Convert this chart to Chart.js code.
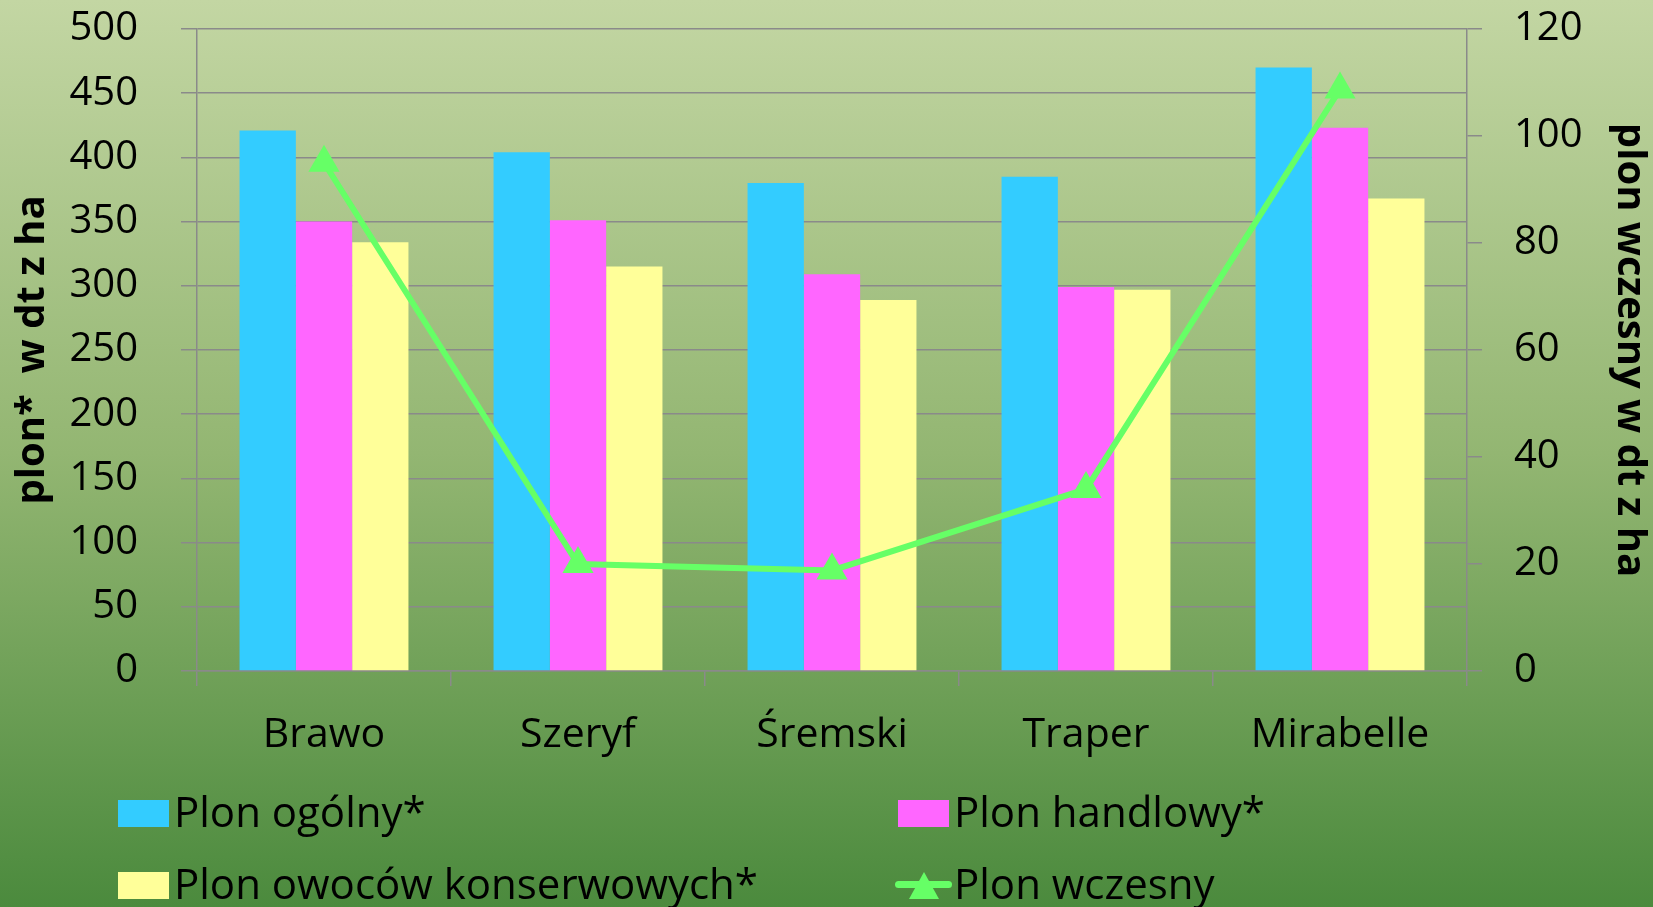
<!DOCTYPE html>
<html>
<head>
<meta charset="utf-8">
<script src="https://cdn.jsdelivr.net/npm/chart.js@4"></script>
<style>
  html, body { margin: 0; padding: 0; }
  body {
    width: 1653px; height: 907px; overflow: hidden; position: relative;
    background: linear-gradient(to bottom, #c3d6a3 0%, #93b672 50%, #4b8a3d 100%);
    font-family: 'Open Sans', sans-serif;
  }
  #wrap { position: absolute; left: 0; top: 0; width: 1653px; height: 907px; }
  .lg { position: absolute; font-size: 42px; line-height: 48px; color: #000; white-space: nowrap; }
  .box { position: absolute; width: 51px; height: 27px; }
  .lline { position: absolute; width: 57px; height: 7px; border-radius: 4px; }
  .ltri { position: absolute; width: 0; height: 0; border-left: 15px solid transparent; border-right: 15px solid transparent; }
</style>
</head>
<body>
<div id="wrap"><canvas id="barChart" width="1653" height="907"></canvas></div>
<div id="legend"></div>
<script>
// dane
var categories = ['Brawo', 'Szeryf', 'Śremski', 'Traper', 'Mirabelle'];
var plonOgolny = [421, 404, 380, 385, 470];
var plonHandlowy = [350, 351, 309, 299, 423];
var plonKonserwowy = [334, 315, 289, 297, 368];
var plonWczesny = [95, 20, 18.8, 34, 108.7];
var leftTicks = [0, 500, 50];
var rightTicks = [0, 120, 20];

var seriesNames = ['Plon ogólny*', 'Plon handlowy*', 'Plon owoców konserwowych*', 'Plon wczesny'];
var seriesColors = ['#33ccff', '#ff66ff', '#ffff99', '#66ff66'];

var gridColor = '#8a8a8a';
var tickFont = { family: 'Open Sans', size: 40 };
var titleFont = { family: 'Open Sans', size: 40, weight: 'bold' };

// górna krawędź obszaru wykresu jak w oryginale (29 px)
function fixPadding(scale) {
  scale.paddingTop = 29;
  scale.paddingBottom = 0;
}

var ctx = document.getElementById('barChart').getContext('2d');
var chart = new Chart(ctx, {
  type: 'bar',
  data: {
    labels: categories,
    datasets: [
      {
        type: 'line',
        label: seriesNames[3],
        data: plonWczesny,
        yAxisID: 'y1',
        borderColor: seriesColors[3],
        backgroundColor: seriesColors[3],
        borderWidth: 6,
        pointStyle: 'triangle',
        pointRadius: 18,
        pointHoverRadius: 18,
        pointBorderWidth: 0,
        tension: 0,
        order: 0
      },
      { label: seriesNames[0], data: plonOgolny, backgroundColor: seriesColors[0], yAxisID: 'y', order: 1 },
      { label: seriesNames[1], data: plonHandlowy, backgroundColor: seriesColors[1], yAxisID: 'y', order: 1 },
      { label: seriesNames[2], data: plonKonserwowy, backgroundColor: seriesColors[2], yAxisID: 'y', order: 1 }
    ]
  },
  options: {
    responsive: false,
    animation: false,
    events: [],
    datasets: { bar: { categoryPercentage: 0.665, barPercentage: 1.0 } },
    layout: { padding: { top: 0, bottom: 146, left: 0, right: 0 } },
    plugins: { legend: { display: false }, tooltip: { enabled: false } },
    scales: {
      x: {
        offset: true,
        grid: { offset: true, drawOnChartArea: false, color: gridColor, lineWidth: 1.5, tickLength: 15 },
        border: { color: gridColor, width: 1.5 },
        ticks: { color: '#000', font: { family: 'Open Sans', size: 41 }, padding: 25, maxRotation: 0 },
        afterFit: function (scale) { scale.height = 90; }
      },
      y: {
        position: 'left',
        min: leftTicks[0], max: leftTicks[1],
        ticks: { stepSize: leftTicks[2], color: '#000', font: tickFont, padding: 43 },
        grid: { color: gridColor, lineWidth: 1.5, tickLength: 16 },
        border: { color: gridColor, width: 1.5 },
        title: { display: true, text: 'plon*  w dt z ha', color: '#000', font: titleFont, padding: { top: 9, bottom: 0 } },
        afterFit: function (scale) { scale.width = 197; fixPadding(scale); }
      },
      y1: {
        position: 'right',
        min: rightTicks[0], max: rightTicks[1],
        ticks: { stepSize: rightTicks[2], color: '#000', font: tickFont, padding: 32 },
        grid: { drawOnChartArea: false, color: gridColor, lineWidth: 1.5, tickLength: 15 },
        border: { color: gridColor, width: 1.5 },
        title: { display: true, text: 'plon wczesny w dt z ha', color: '#000', font: titleFont, padding: { top: 0, bottom: 3 } },
        afterFit: function (scale) { scale.width = 186; fixPadding(scale); }
      }
    }
  }
});

// legenda w dwóch kolumnach, jak w oryginale
var legendPos = [
  { x: 118, y: 813 },  // Plon ogólny*
  { x: 898, y: 813 },  // Plon handlowy*
  { x: 118, y: 885 },  // Plon owoców konserwowych*
  { x: 898, y: 885 }   // Plon wczesny
];
var legendOrder = [1, 2, 3, 0];
var legend = document.getElementById('legend');
legendOrder.forEach(function (dsIndex, i) {
  var ds = chart.data.datasets[dsIndex];
  var p = legendPos[i];
  var html = '';
  if (ds.type === 'line') {
    html += '<div class="lline" style="left:' + (p.x - 3) + 'px;top:' + (p.y - 4) + 'px;background:' + ds.borderColor + '"></div>';
    html += '<div class="ltri" style="left:' + (p.x + 11) + 'px;top:' + (p.y - 13) + 'px;border-bottom:27px solid ' + ds.borderColor + '"></div>';
  } else {
    html += '<div class="box" style="left:' + p.x + 'px;top:' + (p.y - 13) + 'px;background:' + ds.backgroundColor + '"></div>';
  }
  html += '<div class="lg" style="left:' + (p.x + 56) + 'px;top:' + (p.y - 26) + 'px">' + ds.label + '</div>';
  legend.insertAdjacentHTML('beforeend', html);
});
</script>
</body>
</html>
